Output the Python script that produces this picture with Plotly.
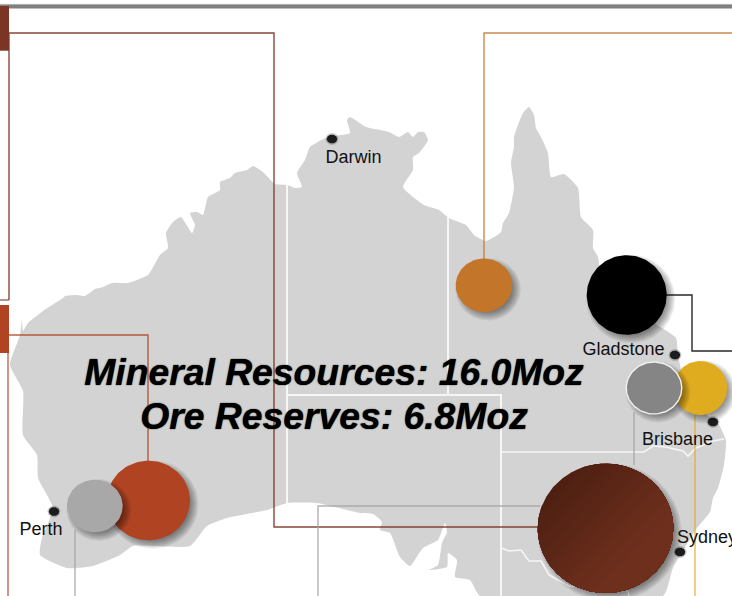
import numpy as np
import plotly.graph_objects as go

W, H = 732, 596

# --- Map outline (in picture pixels) ---
coast_x = [65,77,85,95,103,112,128,148,160,168,166,173,181,192,195,190,197,203,208,220,220,230,235,247,253,263,275,287,295,302,297,305,310,328,350,347,350,366,
           389,399,408,413,418,424,428,419,413,413,403,424,439,449,466,474,486,501,503,509,514,511,514,514,523,529,534,536,541,548,551,564,578,581,593,593,598,
           604,659,676,678,690,719,726,724,718,713,710,697,673,663,
           480,470,455,457,448,447,429,438,442,447,445,438,423,410,400,390,380,382,373,360,
           317,287,267,227,207,190,133,120,93,67,40,42,53,38,37,23,23,10,20,22,23,28,43,63]
coast_y = [296,295,296,289,287,283,283,275,255,248,233,222,217,233,225,213,212,215,197,190,182,178,173,170,166,172,184,185,188,187,173,160,147,137,133,120,117,127,
           132,137,132,137,132,132,140,153,157,170,187,205,210,218,225,235,241,232,223,213,187,163,147,137,113,107,115,128,137,153,177,174,188,217,230,248,257,
           290,326,338,355,400,425,441,465,488,498,512,528,568,596,
           596,580,577,560,553,567,570,565,543,532,523,540,548,566,557,533,530,522,514,513,
           503,503,510,518,526,546,546,555,566,568,555,538,508,478,455,435,391,365,335,320,331,323,311,298]

border_a_x, border_a_y = [287,287], [185,503]
border_b_x, border_b_y = [287,501,501], [395,395,596]
border_c_x, border_c_y = [448,448], [217,395]
border_d_x = [501,644,653,666,683,688,696,713,724]
border_d_y = [452,452,446,447,451,456,448,441,439]
border_e_x = [501,509,521,529,541,549,569,628,629]
border_e_y = [548,551,550,561,561,575,586,591,596]

# --- Connector lines ---
connectors = [
    ([9,9,274,274,538], [300,33,33,527,527], "rgba(122,53,36,0.9)"),
    ([0,9], [300,300], "rgba(122,53,36,0.75)"),
    ([9,148,148], [335,335,461], "rgba(176,67,35,0.85)"),
    ([8,8], [352,596], "rgba(176,67,35,0.8)"),
    ([732,484,484], [33,33,259], "rgba(196,117,42,0.85)"),
    ([666,692,692,732], [295,295,351,351], "rgba(30,30,30,0.95)"),
    ([75,75], [530,596], "rgba(165,165,165,0.85)"),
    ([318,318,540], [596,506,506], "rgba(165,165,165,0.85)"),
    ([634,634], [412,465], "rgba(165,165,165,0.85)"),
    ([695,695], [413,596], "rgba(222,172,30,0.8)"),
]

# --- Bubbles, painted in this order ---
bubble_names = ["Copper", "Orange", "Black", "Gold", "Grey", "Red", "LightGrey"]
bubble_cx = [605.5, 484, 626.7, 700.3, 654, 148.5, 94.8]
bubble_cy = [528.3, 285.3, 295, 388, 388, 500.5, 506]
bubble_w = [135.6, 56.6, 80, 54, 55.5, 83, 55.7]
bubble_h = [129.3, 53.5, 79.7, 54, 52, 79.6, 52.6]
bubble_fill = ["#6b2e1c", "#c3752a", "#000000", "#dfac1f", "#858585", "#af4322", "#a8a8a8"]

city_names = ["Darwin", "Perth", "Gladstone", "Brisbane", "Sydney"]
city_x = [332, 54, 675, 713, 680]
city_y = [139, 511.5, 355, 422, 552]
label_x = [353.5, 41, 623.5, 677.5, 707]
label_y = [158, 530, 350, 440, 538]

title_lines = ["Mineral Resources: 16.0Moz", "Ore Reserves: 6.8Moz"]
title_x = [334, 334]
title_y = [376, 419.5]

FONT = "Liberation Sans"
fig = go.Figure()

def poly(x, y, fill, line=None, lw=0, shape="linear"):
    fig.add_trace(go.Scatter(x=x, y=y, mode="lines", fill="toself", fillcolor=fill,
                             line=dict(color=line or "rgba(0,0,0,0)", width=lw, shape=shape, smoothing=0.5),
                             hoverinfo="skip", showlegend=False))

def ell(cx, cy, w, h, n=120):
    t = np.linspace(0, 2*np.pi, n, endpoint=False)
    return cx + w/2*np.cos(t), cy + h/2*np.sin(t)

def closed(x, y):
    return list(x) + [x[0]], list(y) + [y[0]]

def path(x, y, color, width):
    fig.add_trace(go.Scatter(x=x, y=y, mode="lines", line=dict(color=color, width=width),
                             hoverinfo="skip", showlegend=False))

def shadow(cx, cy, w, h, dx=4, dy=4, spread=9, steps=9, alpha=0.06):
    for i in range(steps):
        g = spread * (1 - 2*i/(steps-1))
        x, y = ell(cx+dx, cy+dy, w+g, h+g)
        poly(*closed(x, y), f"rgba(0,0,0,{alpha})")

cx_, cy_ = closed(coast_x, coast_y)
poly(cx_, cy_, "#d3d3d3", shape="spline")

for bx, by in [(border_a_x, border_a_y), (border_b_x, border_b_y), (border_c_x, border_c_y)]:
    path(bx, by, "#f6f6f6", 2)
path(border_d_x, border_d_y, "#f6f6f6", 1.6)
path(border_e_x, border_e_y, "#f6f6f6", 1.6)

# city dots
for x0, y0 in zip(city_x, city_y):
    ex, ey = ell(x0, y0, 13, 12)
    poly(*closed(ex, ey), "rgba(60,60,60,0.25)")
    ex, ey = ell(x0, y0, 10.5, 9)
    poly(*closed(ex, ey), "#1c1c1c")

for xs, ys, col in connectors:
    path(xs, ys, col, 1.4)

# bubbles: gold under grey, red under light grey
order = [1, 2, 3, 4, 0, 5, 6]
for i in order:
    cx, cy, w, h = bubble_cx[i], bubble_cy[i], bubble_w[i], bubble_h[i]
    shadow(cx, cy, w, h)
    if bubble_names[i] == "Copper":
        ex, ey = ell(cx, cy, w, h, 240)
        poly(*closed(ex, ey), "#4f2012")
        d = np.array([0.72, 0.69])
        proj = (ex-cx)*d[0] + (ey-cy)*d[1]
        lo, hi = -0.48*w, 0.25*w
        c0, c1 = np.array([0x4f,0x20,0x12]), np.array([0x6e,0x2f,0x1d])
        for s in range(1, 31):
            f = s/30
            keep = proj >= lo + (hi-lo)*f
            col = c0 + (c1-c0)*f
            poly(*closed(ex[keep], ey[keep]), f"rgb({col[0]:.0f},{col[1]:.0f},{col[2]:.0f})")
    else:
        ex, ey = ell(cx, cy, w, h)
        edge = "#f2f2f2" if bubble_names[i] in ("Grey",) else None
        poly(*closed(ex, ey), bubble_fill[i], edge, 1.4 if edge else 0)

# top bar and tabs
poly([0,W,W,0,0], [4,4,8.6,8.6,4], "#808080")
path([0,W], [4.4,4.4], "#b4b4b4", 1)
poly([0,9,9,0,0], [6,6,50.7,50.7,6], "#7a3524")
poly([0,9,9,0,0], [305,305,353,353,305], "#af4322")

fig.add_trace(go.Scatter(x=label_x, y=label_y, text=city_names, mode="text", textposition="middle center",
                         textfont=dict(family=FONT, size=18, color="#111111"),
                         hoverinfo="skip", showlegend=False, cliponaxis=False))
fig.add_trace(go.Scatter(x=title_x, y=title_y, text=title_lines, mode="text", textposition="middle center",
                         textfont=dict(family=FONT, size=37.3, color="#000000", weight="bold", style="italic",
                                       shadow="0 0 1.2px #000"),
                         hoverinfo="skip", showlegend=False))

axis = dict(visible=False, fixedrange=True, showgrid=False, zeroline=False)
fig.update_layout(width=W, height=H, margin=dict(l=0, r=0, t=0, b=0),
                  paper_bgcolor="white", plot_bgcolor="white", showlegend=False,
                  xaxis=dict(range=[0, W], **axis),
                  yaxis=dict(range=[H, 0], **axis))
fig.write_html("out.html", config=dict(displayModeBar=False),
               post_script="document.body.style.margin='0';document.documentElement.style.overflow='hidden';")
